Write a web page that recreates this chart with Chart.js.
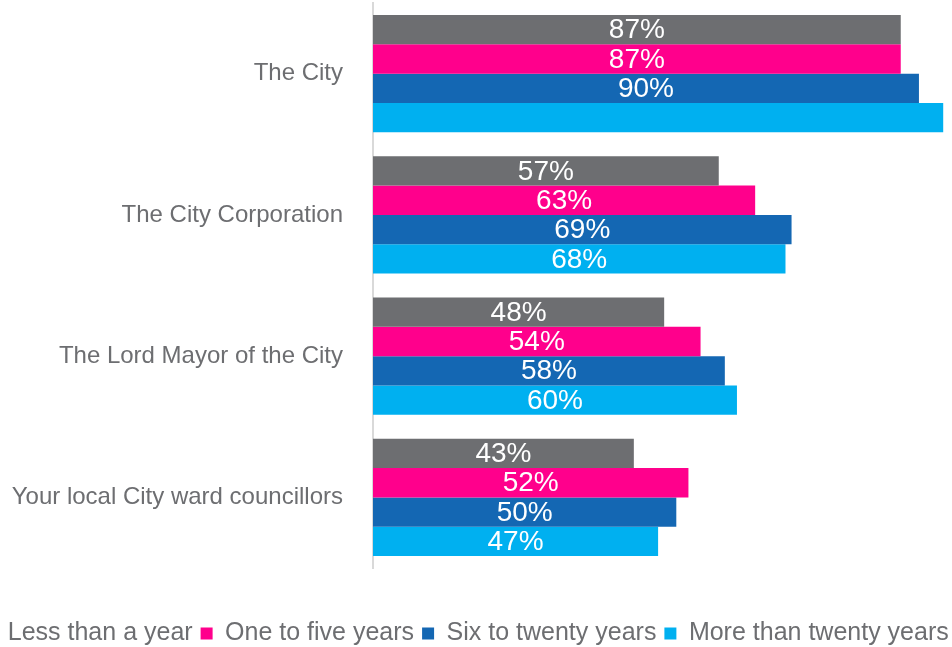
<!DOCTYPE html>
<html>
<head>
<meta charset="utf-8">
<script src="https://cdn.jsdelivr.net/npm/chart.js@4.4.1/dist/chart.umd.min.js"></script>
<style>
    html, body { margin: 0; padding: 0; background: #fff; overflow: hidden; }
    #wrap { position: absolute; left: -84px; top: 0; width: 1100px; height: 647px; }
</style>
</head>
<body>
<div id="wrap"><canvas id="chart"></canvas></div>
<script>
const categories = ['The City', 'The City Corporation', 'The Lord Mayor of the City', 'Your local City ward councillors'];
const seriesNames = ['Less than a year', 'One to five years', 'Six to twenty years', 'More than twenty years'];
const lessThanYear = [87, 57, 48, 43];
const oneToFive = [87, 63, 54, 52];
const sixToTwenty = [90, 69, 58, 50];
const moreThanTwenty = [94, 68, 60, 47];
// the reference shows no label on this bar
const hiddenLabels = [[3, 0]];

const colors = ['#6d6e71', '#ff008c', '#1467b3', '#00b0f0'];
const textColor = '#6d6e71';
const fontFamily = '"Liberation Sans", Arial, sans-serif';

const valueLabels = {
    id: 'valueLabels',
    afterDatasetsDraw(chart) {
        const ctx = chart.ctx;
        ctx.save();
        ctx.fillStyle = '#ffffff';
        ctx.font = '28px ' + fontFamily;
        ctx.textAlign = 'center';
        ctx.textBaseline = 'middle';
        chart.data.datasets.forEach((ds, di) => {
            chart.getDatasetMeta(di).data.forEach((bar, i) => {
                if (hiddenLabels.some(h => h[0] === di && h[1] === i)) return;
                const x = (bar.x + bar.base) / 2;
                ctx.fillText(ds.data[i] + '%', x, bar.y + 1);
            });
        });
        ctx.restore();
    }
};

const data = [lessThanYear, oneToFive, sixToTwenty, moreThanTwenty];

new Chart(document.getElementById('chart'), {
    type: 'bar',
    data: {
        labels: categories,
        datasets: data.map((d, i) => ({
            label: seriesNames[i],
            data: d,
            backgroundColor: colors[i],
            borderWidth: 0,
            categoryPercentage: 0.83,
            barPercentage: 1
        }))
    },
    options: {
        indexAxis: 'y',
        responsive: true,
        maintainAspectRatio: false,
        animation: false,
        layout: {padding: {top: 3, right: 0, left: 0, bottom: -9}},
        scales: {
            x: {
                min: 0,
                max: 106,
                ticks: {display: false},
                grid: {display: false},
                border: {display: false},
                afterFit: (scale) => { scale.height = 45; }
            },
            y: {
                grid: {display: false, drawTicks: false},
                border: {display: true, color: '#d9d9d9', width: 2},
                ticks: {
                    color: textColor,
                    font: {size: 24, family: fontFamily},
                    padding: 30
                },
                afterFit: (scale) => {
                    scale.width = 457;
                    scale.paddingTop = 0;
                    scale.paddingBottom = 0;
                }
            }
        },
        plugins: {
            legend: {
                position: 'bottom',
                labels: {
                    color: textColor,
                    font: {size: 25, family: fontFamily},
                    boxWidth: 12,
                    boxHeight: 12,
                    padding: 8
                }
            },
            tooltip: {enabled: false}
        }
    },
    plugins: [valueLabels]
});
</script>
</body>
</html>
